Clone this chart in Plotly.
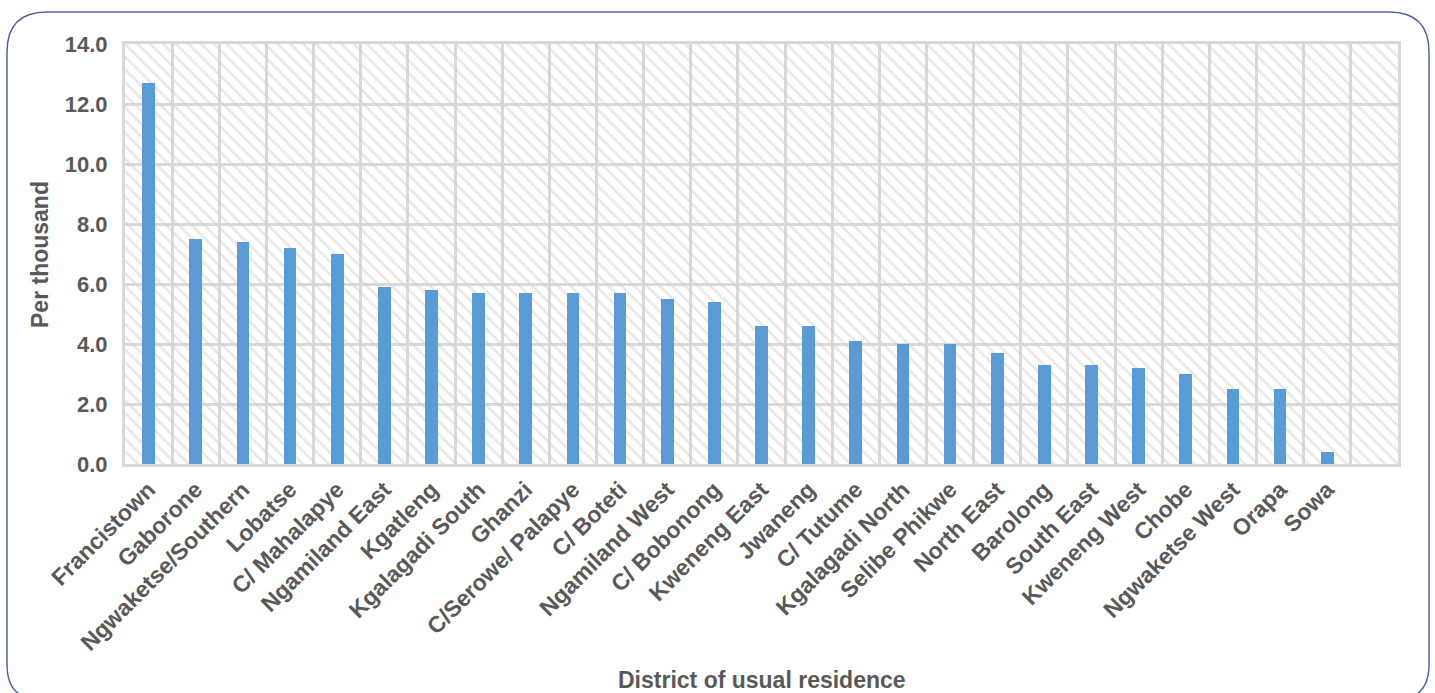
import plotly.graph_objects as go

# District rates, per thousand
districts = [
    "Francistown", "Gaborone", "Ngwaketse/Southern", "Lobatse", "C/ Mahalapye",
    "Ngamiland East", "Kgatleng", "Kgalagadi South", "Ghanzi", "C/Serowe/ Palapye",
    "C/ Boteti", "Ngamiland West", "C/ Bobonong", "Kweneng East", "Jwaneng",
    "C/ Tutume", "Kgalagadi North", "Selibe Phikwe", "North East", "Barolong",
    "South East", "Kweneng West", "Chobe", "Ngwaketse West", "Orapa", "Sowa",
]
rates = [
    12.7, 7.5, 7.4, 7.2, 7.0,
    5.9, 5.8, 5.7, 5.7, 5.7,
    5.7, 5.5, 5.4, 4.6, 4.6,
    4.1, 4.0, 4.0, 3.7, 3.3,
    3.3, 3.2, 3.0, 2.5, 2.5, 0.4,
]
y_ticks = [0, 2, 4, 6, 8, 10, 12, 14]
y_tick_text = ["0.0", "2.0", "4.0", "6.0", "8.0", "10.0", "12.0", "14.0"]

W, H = 1435, 693
L, R, T, B = 125, 37, 44, 229
n_slots = len(districts) + 1  # one spare slot after the last district
grey_txt = "#595959"
grid = "#d9d9d9"
bold = dict(family="Liberation Sans, Arial, sans-serif", weight="bold", color=grey_txt)

fig = go.Figure()

# hatched plot-area fill (transparent ground so gridlines show through)
fig.add_bar(
    x=[districts[(n_slots - 1) // 2]], y=[y_ticks[-1]], width=n_slots,
    marker=dict(
        color="rgba(0,0,0,0)", line=dict(width=0),
        pattern=dict(shape="\\", size=9, solidity=0.3,
                     fgcolor="#d2d2d2", bgcolor="rgba(0,0,0,0)"),
    ),
    hoverinfo="skip", showlegend=False,
)

fig.add_bar(
    x=districts, y=rates, width=0.27,
    marker=dict(color="#5b9bd5", line=dict(width=0)),
    showlegend=False,
)

def px_x(px):
    return (px - L) / (W - L - R)

def px_y(py):
    return (H - B - py) / (H - T - B)

# rounded outer frame
x0, x1, y0, y1 = 7, 1429, 12, 700
rt, rb = 40, 35
path = (
    f"M {px_x(x0)},{px_y(y0 + rt)} "
    f"Q {px_x(x0)},{px_y(y0)} {px_x(x0 + rt)},{px_y(y0)} "
    f"L {px_x(x1 - rt)},{px_y(y0)} "
    f"Q {px_x(x1)},{px_y(y0)} {px_x(x1)},{px_y(y0 + rt)} "
    f"L {px_x(x1)},{px_y(y1 - rb)} "
    f"Q {px_x(x1)},{px_y(y1)} {px_x(x1 - rb)},{px_y(y1)} "
    f"L {px_x(x0 + rb)},{px_y(y1)} "
    f"Q {px_x(x0)},{px_y(y1)} {px_x(x0)},{px_y(y1 - rb)} Z"
)
fig.add_shape(type="path", path=path, xref="paper", yref="paper",
              line=dict(color="#5060a8", width=1.5), layer="above")

fig.add_annotation(text="Per thousand", xref="paper", yref="paper",
                   x=px_x(40), y=px_y(255), xanchor="center", yanchor="middle",
                   textangle=-90, showarrow=False,
                   font=dict(size=23, **bold))
fig.add_annotation(text="District of usual residence", xref="paper", yref="paper",
                   x=px_x(762), y=px_y(680), xanchor="center", yanchor="middle",
                   showarrow=False,
                   font=dict(size=23, **bold))

fig.update_layout(
    width=W, height=H,
    margin=dict(l=L, r=R, t=T, b=B),
    paper_bgcolor="white", plot_bgcolor="white",
    barmode="overlay", bargap=0,
    xaxis=dict(
        type="category", categoryorder="array", categoryarray=districts,
        range=[-0.5, n_slots - 0.5], tickson="boundaries",
        showgrid=True, gridcolor=grid, gridwidth=3,
        showline=True, mirror=True, linecolor=grid, linewidth=3,
        ticks="", tickangle=-45, tickfont=dict(size=23, **bold),
        fixedrange=True,
    ),
    yaxis=dict(
        range=[0, 14], tickvals=y_ticks, ticktext=y_tick_text,
        showgrid=True, gridcolor=grid, gridwidth=3, zeroline=False,
        showline=True, mirror=True, linecolor=grid, linewidth=3,
        ticks="", ticklabelstandoff=10, tickfont=dict(size=22, **bold),
        fixedrange=True,
    ),
)

fig.write_html("out.html")
